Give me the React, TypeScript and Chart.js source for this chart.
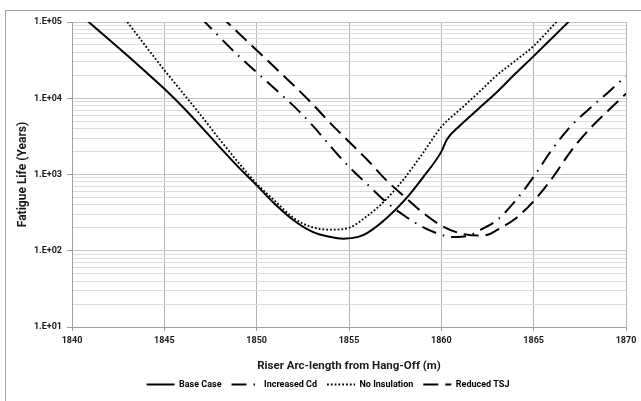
import { useEffect, useRef } from 'react';
import { Chart, registerables } from 'chart.js';

Chart.register(...registerables);

const seriesNames = ['Base Case', 'Increased Cd', 'No Insulation', 'Reduced TSJ'];

const baseCaseX = [1840.5, 1841, 1842, 1843, 1844, 1845, 1846, 1847, 1848, 1849, 1850, 1851, 1852, 1853, 1854, 1854.7, 1855.5, 1856, 1857, 1858, 1859, 1860, 1860.3, 1861, 1862, 1863, 1864, 1865, 1866, 1867];
const baseCaseLife = [123000, 95500, 58900, 36300, 22100, 13300, 7670, 4220, 2290, 1260, 721, 407, 251, 178, 151, 144, 152, 172, 263, 457, 912, 1995, 2880, 4365, 7240, 12000, 20900, 35700, 61700, 107000];

const increasedCdX = [1847, 1848, 1849, 1850, 1851, 1852, 1853, 1854, 1855, 1856, 1857, 1858, 1859, 1860, 1860.7, 1861.5, 1862, 1863, 1864, 1865, 1866, 1867, 1868, 1869, 1870];
const increasedCdLife = [112200, 63100, 36300, 21900, 13200, 7940, 4470, 2340, 1260, 741, 437, 288, 204, 162, 151, 158, 182, 251, 447, 933, 2140, 4270, 7240, 11750, 19500];

const noInsulationX = [1842.5, 1843, 1844, 1845, 1846, 1847, 1848, 1849, 1850, 1851, 1852, 1853, 1854, 1855, 1856, 1857, 1858, 1859, 1860, 1861, 1862, 1863, 1864, 1865, 1866, 1866.5];
const noInsulationLife = [144500, 100000, 47900, 23400, 11750, 5890, 2880, 1445, 759, 447, 269, 204, 189, 200, 288, 468, 891, 1905, 4207, 7080, 11750, 19950, 30900, 48400, 87100, 117500];

const reducedTsjX = [1848, 1849, 1850, 1851, 1852, 1853, 1854, 1855, 1856, 1857, 1858, 1859, 1860, 1861, 1862, 1862.5, 1863, 1864, 1865, 1866, 1867, 1868, 1869, 1870];
const reducedTsjLife = [123000, 72400, 42700, 25100, 14800, 8510, 4680, 2690, 1550, 851, 513, 316, 214, 170, 158, 162, 186, 263, 447, 891, 2000, 3890, 6760, 11500];

const xTickValues = [1840, 1845, 1850, 1855, 1860, 1865, 1870];
const yMajorLabels = ['1.E+01', '1.E+02', '1.E+03', '1.E+04', '1.E+05'];

const FONT = 'Roboto, "Liberation Sans", sans-serif';

function buildYTicks() {
  const out: number[] = [];
  for (let e = 1; e < 5; e++) {
    for (let m = 1; m < 10; m++) out.push(m * Math.pow(10, e));
  }
  out.push(100000);
  return out;
}

function majorIndex(v: number) {
  const e = Math.log10(v);
  const r = Math.round(e);
  return Math.abs(e - r) < 1e-9 ? r : -1;
}

export default function App() {
  const ref = useRef<HTMLCanvasElement | null>(null);

  useEffect(() => {
    if (!ref.current) return;
    const mk = (label: string, xs: number[], ys: number[], dash: number[], width: number) => ({
      label,
      data: xs.map((x, i) => ({ x, y: ys[i] })),
      borderColor: '#000000',
      backgroundColor: '#000000',
      borderWidth: width,
      borderDash: dash,
      pointRadius: 0,
      pointHoverRadius: 0,
      fill: false,
      cubicInterpolationMode: 'monotone' as const,
    });
    const yTicks = buildYTicks();
    const chart = new Chart(ref.current, {
      type: 'line',
      data: {
        datasets: [
          mk(seriesNames[0], baseCaseX, baseCaseLife, [], 2),
          mk(seriesNames[1], increasedCdX, increasedCdLife, [15, 7, 1.5, 7], 2),
          mk(seriesNames[2], noInsulationX, noInsulationLife, [1.8, 2], 1.8),
          mk(seriesNames[3], reducedTsjX, reducedTsjLife, [15, 7], 2),
        ],
      },
      options: {
        responsive: false,
        animation: false,
        devicePixelRatio: 1,
        events: [],
        layout: { padding: { left: 30, right: 15, top: 22, bottom: 2 } },
        plugins: {
          legend: {
            position: 'bottom',
            labels: {
              usePointStyle: true,
              pointStyle: 'line',
              pointStyleWidth: 28,
              padding: 10,
              color: '#000000',
              font: { family: FONT, size: 9, weight: 'bold' },
              generateLabels: (c: any) => {
                const items = Chart.defaults.plugins.legend.labels.generateLabels(c);
                return items.map((it: any) => {
                  const ds: any = c.data.datasets[it.datasetIndex];
                  return {
                    ...it,
                    pointStyle: 'line',
                    rotation: 180,
                    lineDash: ds.borderDash,
                    lineWidth: ds.borderWidth,
                    strokeStyle: '#000000',
                    fillStyle: '#000000',
                    fontColor: '#000000',
                  };
                });
              },
            },
          },
          tooltip: { enabled: false },
        },
        scales: {
          x: {
            type: 'linear',
            min: 1840,
            max: 1870,
            afterBuildTicks: (s: any) => {
              s.ticks = xTickValues.map((v) => ({ value: v }));
            },
            afterFit: (s: any) => {
              s.height = 43;
            },
            grid: { color: '#b4b4b4', tickLength: 4, tickColor: '#a0a0a0' },
            border: { color: '#a0a0a0' },
            ticks: {
              padding: 4,
              color: '#1a1a1a',
              autoSkip: false,
              maxRotation: 0,
              font: { family: FONT, size: 9, weight: 'bold' },
              callback: (v: any) => String(v),
            },
            title: {
              display: true,
              text: 'Riser Arc-length from Hang-Off (m)',
              color: '#1a1a1a',
              font: { family: FONT, size: 11.5, weight: 'bold' },
              padding: { top: 0, bottom: -3 },
            },
          },
          y: {
            type: 'logarithmic',
            min: 10,
            max: 100000,
            afterBuildTicks: (s: any) => {
              s.ticks = yTicks.map((v) => ({ value: v, major: majorIndex(v) >= 0 }));
            },
            afterFit: (s: any) => {
              s.width = 42;
            },
            grid: {
              color: (c: any) => (c.tick && majorIndex(c.tick.value) >= 0 ? '#c4c4c4' : '#dcdcdc'),
              tickColor: (c: any) => (c.tick && majorIndex(c.tick.value) >= 0 ? '#a0a0a0' : 'rgba(0,0,0,0)'),
              tickLength: 5,
            },
            border: { color: '#a0a0a0' },
            ticks: {
              padding: 5,
              color: '#1a1a1a',
              autoSkip: false,
              font: { family: FONT, size: 9, weight: 'bold' },
              callback: (v: any) => {
                const e = majorIndex(Number(v));
                return e >= 1 ? yMajorLabels[e - 1] : '';
              },
            },
            title: {
              display: true,
              text: 'Fatigue Life (Years)',
              color: '#1a1a1a',
              font: { family: FONT, size: 12, weight: 'bold' },
              padding: { top: -14.2, bottom: 0 },
            },
          },
        },
      },
    } as any);
    return () => chart.destroy();
  }, []);

  return (
    <div style={{ position: 'fixed', left: 0, top: 0, width: 641, height: 401, overflow: 'hidden', background: '#ffffff' }}>
      <div style={{ position: 'absolute', left: 5, top: 10, width: 700, height: 500, border: '1px solid #a0a0a0', boxSizing: 'border-box' }} />
      <canvas ref={ref} width={641} height={401} style={{ position: 'absolute', left: 0, top: 0, display: 'block' }} />
    </div>
  );
}
